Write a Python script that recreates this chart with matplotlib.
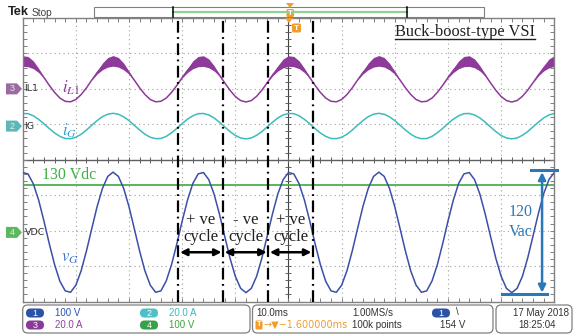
import matplotlib

matplotlib.use("Agg")
import matplotlib.pyplot as plt
from matplotlib.patches import Polygon, FancyBboxPatch, Rectangle
from matplotlib.transforms import Affine2D
import numpy as np

plt.rcParams["mathtext.fontset"] = "stix"

W, H, DPI = 574, 335, 100

# time base: 10 ms/div, one reading per ms
t_ms = list(range(101))
# ch1 grid voltage vG (V), 100 V/div
vg_v = [169, 165, 137, 91, 32, -32, -91, -138, -165, -169,
        -149, -108, -52, 11, 73, 124, 158, 170, 158, 124,
        72, 10, -53, -109, -149, -169, -165, -137, -91, -32,
        32, 91, 138, 165, 169, 149, 108, 52, -11, -73,
        -124, -158, -170, -158, -124, -72, -10, 53, 109, 149,
        169, 165, 137, 91, 32, -32, -91, -138, -165, -169,
        -149, -108, -52, 11, 73, 124, 158, 170, 158, 124,
        72, 10, -53, -109, -149, -169, -165, -137, -91, -32,
        32, 91, 138, 165, 169, 149, 108, 52, -11, -73,
        -124, -158, -170, -158, -124, -72, -10, 53, 109, 149,
        169]
# ch2 grid current iG (A), 20 A/div
ig_a = [7.1, 7.0, 5.8, 3.8, 1.3, -1.4, -3.9, -5.8, -7.0, -7.1,
        -6.3, -4.6, -2.2, 0.5, 3.1, 5.3, 6.7, 7.2, 6.7, 5.2,
        3.1, 0.4, -2.2, -4.6, -6.3, -7.1, -7.0, -5.8, -3.8, -1.3,
        1.4, 3.9, 5.8, 7.0, 7.1, 6.3, 4.6, 2.2, -0.5, -3.1,
        -5.3, -6.7, -7.2, -6.7, -5.2, -3.1, -0.4, 2.2, 4.6, 6.3,
        7.1, 7.0, 5.8, 3.8, 1.3, -1.4, -3.9, -5.8, -7.0, -7.1,
        -6.3, -4.6, -2.2, 0.5, 3.1, 5.3, 6.7, 7.2, 6.7, 5.2,
        3.1, 0.4, -2.2, -4.6, -6.3, -7.1, -7.0, -5.8, -3.8, -1.3,
        1.4, 3.9, 5.8, 7.0, 7.1, 6.3, 4.6, 2.2, -0.5, -3.1,
        -5.3, -6.7, -7.2, -6.7, -5.2, -3.1, -0.4, 2.2, 4.6, 6.3,
        7.1]
# ch3 inductor current iL1 (A), 20 A/div, plus switching ripple half-width
il1_a = [15.7, 15.4, 13.6, 10.4, 6.4, 2.0, -2.0, -5.2, -7.0, -7.3,
         -6.0, -3.2, 0.6, 5.0, 9.2, 12.7, 15.0, 15.8, 15.0, 12.6,
         9.1, 4.9, 0.6, -3.2, -6.0, -7.3, -7.0, -5.2, -2.0, 2.0,
         6.4, 10.4, 13.6, 15.4, 15.7, 14.4, 11.6, 7.8, 3.4, -0.8,
         -4.3, -6.6, -7.4, -6.6, -4.2, -0.7, 3.5, 7.8, 11.6, 14.4,
         15.7, 15.4, 13.6, 10.4, 6.4, 2.0, -2.0, -5.2, -7.0, -7.3,
         -6.0, -3.2, 0.6, 5.0, 9.2, 12.7, 15.0, 15.8, 15.0, 12.6,
         9.1, 4.9, 0.6, -3.2, -6.0, -7.3, -7.0, -5.2, -2.0, 2.0,
         6.4, 10.4, 13.6, 15.4, 15.7, 14.4, 11.6, 7.8, 3.4, -0.8,
         -4.3, -6.6, -7.4, -6.6, -4.2, -0.7, 3.5, 7.8, 11.6, 14.4,
         15.7]
il1_ripple_a = [3.0, 2.9, 2.2, 1.2, 0.2, 0, 0, 0, 0, 0,
                0, 0, 0, 0, 0.8, 1.9, 2.7, 3.0, 2.7, 1.9,
                0.8, 0, 0, 0, 0, 0, 0, 0, 0, 0,
                0.2, 1.2, 2.2, 2.9, 3.0, 2.5, 1.5, 0.5, 0, 0,
                0, 0, 0, 0, 0, 0, 0, 0.5, 1.5, 2.5,
                3.0, 2.9, 2.2, 1.2, 0.2, 0, 0, 0, 0, 0,
                0, 0, 0, 0, 0.8, 1.9, 2.7, 3.0, 2.7, 1.9,
                0.8, 0, 0, 0, 0, 0, 0, 0, 0, 0,
                0.2, 1.2, 2.2, 2.9, 3.0, 2.5, 1.5, 0.5, 0, 0,
                0, 0, 0, 0, 0, 0, 0, 0.5, 1.5, 2.5,
                3.0]
vdc_v = 135  # ch4 dc link, 100 V/div
cycle_edges_ms = [29.3, 37.7, 46.2, 54.6]
cycle_signs = ["+ ve", "- ve", "+ ve"]

V_DIV, A_DIV = 100.0, 20.0
OFF_IL1, OFF_IG, OFF_VG = 2.0, 0.95, -2.05

C_IL1 = "#8e3a9a"
C_IG = "#3cbcbc"
C_VG = "#3c4fa8"
C_VDC = "#4cb050"
C_ANN = "#2a78b8"
SERIF = "Liberation Serif"
SANS = "Liberation Sans"

PL, PR, PT, PB = 22.7, 554.3, 18.0, 301.5


def ypx(div):
    return PT + (4 - div) * (PB - PT) / 8


fig = plt.figure(figsize=(W / DPI, H / DPI), dpi=DPI)
fig.patch.set_facecolor("white")
PX = Affine2D().scale(1 / DPI, -1 / DPI).translate(0, H / DPI) + fig.dpi_scale_trans

ax = fig.add_axes([PL / W, 1 - PB / H, (PR - PL) / W, (PB - PT) / H])
ax.set_xlim(0, 100)
ax.set_ylim(-4, 4)
ax.set_xticks(np.arange(0, 100.1, 2))
ax.set_yticks(np.arange(-4, 4.01, 0.2))
ax.tick_params(direction="in", length=3, width=0.7, color="#808080",
               top=True, right=True, labelbottom=False, labelleft=False)
for sp in ax.spines.values():
    sp.set_color("#808080")
    sp.set_linewidth(1.0)

# graticule
for gx in range(10, 100, 10):
    if gx != 50:
        ax.axvline(gx, color="#a0a0a0", lw=0.8, ls=(0, (1, 3)), zorder=1)
for gy in range(-3, 4):
    if gy != 0:
        ax.axhline(gy, color="#a0a0a0", lw=0.8, ls=(0, (1, 3)), zorder=1)
ax.axhline(0, color="#606060", lw=1.0, zorder=1)
ax.axvline(50, color="#404040", lw=0.8, zorder=1)
ax.plot(np.arange(0, 100.1, 2), np.zeros(51), ls="none", marker="|", ms=5,
        mew=0.7, color="#606060", zorder=1)
ax.plot(np.full(41, 50), np.arange(-4, 4.01, 0.2), ls="none", marker="_", ms=5,
        mew=0.7, color="#606060", zorder=1)

# traces
t = np.array(t_ms, dtype=float)
il1 = OFF_IL1 + np.array(il1_a) / A_DIV
rip = np.array(il1_ripple_a) / A_DIV
ax.fill_between(t, il1 - rip, il1 + rip, color=C_IL1, lw=0, zorder=2)
ax.plot(t, il1, color=C_IL1, lw=1.1, zorder=2)
ax.plot(t, OFF_IG + np.array(ig_a) / A_DIV, color=C_IG, lw=1.1, zorder=2)
ax.axhline(OFF_VG + vdc_v / V_DIV, color=C_VDC, lw=1.3, zorder=2)
vg = OFF_VG + np.array(vg_v) / V_DIV
ax.plot(t, vg, color=C_VG, lw=1.1, zorder=3)

# cycle markers
for e in cycle_edges_ms:
    ax.axvline(e, color="black", lw=1.6, ls=(0, (5.3, 2, 0.8, 2)), zorder=4)
for i, sign in enumerate(cycle_signs):
    x0, x1 = cycle_edges_ms[i], cycle_edges_ms[i + 1]
    xm = (x0 + x1) / 2
    ax.annotate("", xy=(x1 - 0.3, -2.61), xytext=(x0 + 0.3, -2.61),
                arrowprops=dict(arrowstyle="<|-|>", color="black", lw=1.8,
                                mutation_scale=10, shrinkA=0, shrinkB=0), zorder=5)
    ax.text(xm, -1.71, sign, ha="center", va="center", fontsize=12,
            family=SERIF, color="#202020", zorder=5)
    ax.text(xm, -2.19, "cycle", ha="center", va="center", fontsize=12,
            family=SERIF, color="#202020", zorder=5)

# 120 Vac peak-to-peak marker
vg_top, vg_bot = vg.max(), vg.min()
ax.annotate("", xy=(97.7, vg_bot), xytext=(97.7, vg_top),
            arrowprops=dict(arrowstyle="<|-|>", color=C_ANN, lw=1.8,
                            mutation_scale=11, shrinkA=0, shrinkB=0), zorder=5)
ax.plot([95.6, 100.5], [vg_top + 0.05, vg_top + 0.05], color=C_ANN, lw=2.2,
        clip_on=False, zorder=5)
ax.plot([90.2, 98.7], [vg_bot - 0.05, vg_bot - 0.05], color=C_ANN, lw=2.2, zorder=5)
fig.text(521, 212, "120", transform=PX, ha="center", va="center",
         fontsize=11.5, family=SERIF, color=C_ANN)
fig.text(521, 232, "Vac", transform=PX, ha="center", va="center",
         fontsize=11.5, family=SERIF, color=C_ANN)

# trace labels
fig.text(42, 175, "130 Vdc", transform=PX, ha="left", va="center",
         fontsize=11.5, family=SERIF, color="#3cb043")
fig.text(62, 88, r"$i_{L1}$", transform=PX, ha="left", va="center",
         fontsize=12, color=C_IL1)
fig.text(62, 131, r"$i_G$", transform=PX, ha="left", va="center",
         fontsize=12, color="#2ea0d6")
fig.text(61, 257, r"$v_G$", transform=PX, ha="left", va="center",
         fontsize=12, color="#4070c0")
fig.text(465, 36, "Buck-boost-type VSI", transform=PX, ha="center",
         va="baseline", fontsize=11.8, family=SERIF, color="#202020")
fig.add_artist(plt.Line2D([395, 535], [39, 39], transform=PX, color="#202020", lw=1.0))

# channel tags on the left
for off, num, name, col in [(OFF_IL1, "3", "IL1", "#9a6aa0"),
                            (OFF_IG, "2", "IG", "#5cb8b8"),
                            (OFF_VG, "4", "VDC", "#5cb85c")]:
    y = ypx(off)
    fig.add_artist(Polygon([(6, y - 5.5), (17, y - 5.5), (22, y), (17, y + 5.5), (6, y + 5.5)],
                           closed=True, transform=PX, fc=col, ec="none"))
    fig.text(12.5, y, num, transform=PX, ha="center", va="center", fontsize=6.5,
             color="#e8e8e8", family=SANS)
    fig.text(24.5, y, name, transform=PX, ha="left", va="center", fontsize=6.8,
             color="#303030", family="DejaVu Sans")

# header
fig.text(8, 12, "Tek", transform=PX, ha="left", va="center", fontsize=9.2,
         fontweight="bold", family=SANS, color="#202020")
fig.text(32, 12.5, "Stop", transform=PX, ha="left", va="center", fontsize=7.3,
         family=SANS, color="#404040")
fig.add_artist(Rectangle((94, 6.5), 390, 10.5, transform=PX, fc="white",
                         ec="#808080", lw=0.8))
fig.add_artist(plt.Line2D([173, 407], [11.5, 11.5], transform=PX, color="#90d090", lw=1.6))
for bx in (173, 407):
    fig.add_artist(plt.Line2D([bx, bx], [7, 17], transform=PX, color="black", lw=1.1))
ORANGE = "#f39c2b"
fig.add_artist(Polygon([(286, 3), (294, 3), (290, 8)], closed=True, transform=PX,
                       fc=ORANGE, ec="none"))
fig.add_artist(FancyBboxPatch((286.5, 9), 7.5, 8, boxstyle="round,pad=0,rounding_size=1.5",
                              transform=PX, fc=ORANGE, ec="none"))
fig.text(290.2, 13.2, "T", transform=PX, ha="center", va="center", fontsize=5.5,
         fontweight="bold", color="white", family=SANS)
fig.add_artist(Polygon([(285, 18), (293, 18), (289, 23)], closed=True, transform=PX,
                       fc=ORANGE, ec="none"))
fig.add_artist(FancyBboxPatch((292, 23.5), 9, 9, boxstyle="round,pad=0,rounding_size=1.5",
                              transform=PX, fc=ORANGE, ec="none"))
fig.text(296.5, 28.2, "T", transform=PX, ha="center", va="center", fontsize=6,
         fontweight="bold", color="white", family=SANS)

# status bar
for x0, x1 in [(22.7, 250), (252.5, 493), (496, 572)]:
    fig.add_artist(FancyBboxPatch((x0, 305), x1 - x0, 28,
                                  boxstyle="round,pad=0,rounding_size=5",
                                  transform=PX, fc="white", ec="#808080", lw=0.9))


def pill(x, y, num, col):
    fig.add_artist(FancyBboxPatch((x, y - 4.5), 18, 9, boxstyle="round,pad=0,rounding_size=4.5",
                                  transform=PX, fc=col, ec="none"))
    fig.text(x + 9, y, num, transform=PX, ha="center", va="center", fontsize=6.5,
             color="white", family=SANS)


def stat(x, y, s, col="#333333"):
    fig.text(x, y, s, transform=PX, ha="left", va="center", fontsize=7,
             color=col, family=SANS)


pill(26, 313, "1", "#2a52a6")
stat(55, 313, "100 V", "#3050b0")
pill(26, 325, "3", "#8a3a98")
stat(55, 325, "20.0 A", "#9040a0")
pill(140, 313, "2", "#4cc0c8")
stat(169, 313, "20.0 A", "#3cb8c0")
pill(140, 325, "4", "#38a048")
stat(169, 325, "100 V", "#40a040")

stat(256, 313, "10.0ms")
fig.add_artist(FancyBboxPatch((255.5, 320.5), 7, 9, boxstyle="round,pad=0,rounding_size=1.2",
                              transform=PX, fc=ORANGE, ec="none"))
fig.text(259, 325, "T", transform=PX, ha="center", va="center", fontsize=5.5,
         fontweight="bold", color="white", family=SANS)
fig.text(263.5, 325, "→▼−1.600000ms", transform=PX, ha="left", va="center",
         fontsize=7, color=ORANGE, family="DejaVu Sans")
stat(352, 313, "1.00MS/s")
stat(352, 325, "100k points")
pill(432, 313, "1", "#2a52a6")
stat(456, 312, "\\")
stat(440, 325, "154 V")
stat(513, 313, "17 May 2018")
stat(518, 325, "18:25:04")

fig.savefig("out.png", dpi=DPI, facecolor="white")
